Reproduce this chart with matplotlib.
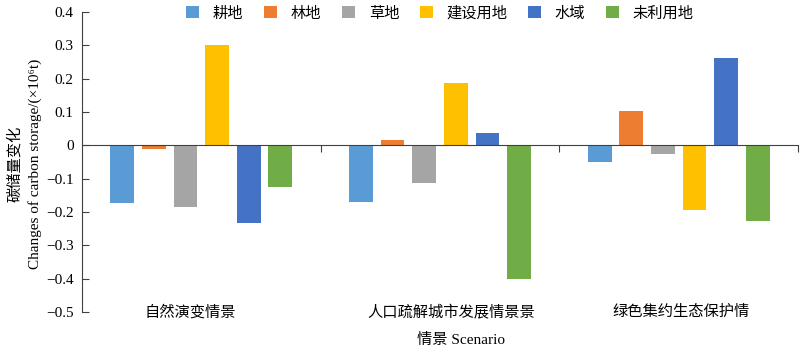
import numpy as np
import matplotlib.pyplot as plt
from matplotlib.transforms import blended_transform_factory

plt.rcParams['font.family'] = ['Liberation Serif', 'Noto Sans CJK SC']
plt.rcParams['axes.unicode_minus'] = True

scenarios = ['自然演变情景', '人口疏解城市发展情景景', '绿色集约生态保护情']
land_types = ['耕地', '林地', '草地', '建设用地', '水域', '未利用地']
colors = ['#5B9BD5', '#ED7D31', '#A5A5A5', '#FFC000', '#4472C4', '#70AD47']

# carbon storage change (x10^6 t), rows = land type, cols = scenario
gengdi = [-0.172, -0.170, -0.050]
lindi = [-0.010, 0.017, 0.102]
caodi = [-0.184, -0.113, -0.027]
jianshe = [0.302, 0.186, -0.194]
shuiyu = [-0.232, 0.036, 0.263]
weiliyong = [-0.124, -0.402, -0.227]
series = [gengdi, lindi, caodi, jianshe, shuiyu, weiliyong]

# where the category labels sit (data x)
label_x = [-0.045, 1.045, 2.01]

fig = plt.figure(figsize=(8, 3.48), dpi=100)
ax = fig.add_axes([0.1025, 0.1034, 0.895, 0.8621])

x = np.arange(len(scenarios))
w = 0.1
step = 0.1325
for i, (vals, c) in enumerate(zip(series, colors)):
    ax.bar(x + (i - 2.5) * step, vals, width=w, color=c, label=land_types[i])

ax.set_xlim(-0.5, 2.5)
ax.set_ylim(-0.5, 0.4)
ax.set_yticks(np.arange(-0.5, 0.41, 0.1))
ax.set_yticklabels(['−0.5', '−0.4', '−0.3', '−0.2', '−0.1', '0', '0.1', '0.2', '0.3', '0.4'],
                   fontsize=11)
ax.tick_params(axis='y', direction='in', length=5, color='#404040', pad=6)

ax.spines['top'].set_visible(False)
ax.spines['right'].set_visible(False)
ax.spines['bottom'].set_position(('data', 0))
ax.spines['bottom'].set_color('#404040')
ax.spines['left'].set_color('#404040')
ax.set_xticks([0.5, 1.5, 2.5])
ax.set_xticklabels([])
ax.tick_params(axis='x', direction='out', length=5, color='#404040')

tr = blended_transform_factory(ax.transData, fig.transFigure)
for xi, name in zip(label_x, scenarios):
    ax.text(xi, 1 - 312 / 348, name, transform=tr, ha='center', va='center',
            fontsize=11, fontweight='medium')

fig.text(461 / 800, 1 - 340 / 348, '情景 Scenario', ha='center', va='center', fontsize=11)
fig.text(15 / 800, 0.53, '碳储量变化', rotation=90, ha='center', va='center', fontsize=11)
fig.text(35 / 800, 0.53, 'Changes of carbon storage/(×10⁶t)', rotation=90,
         ha='center', va='center', fontsize=11)

ax.legend(loc='center', bbox_to_anchor=(0.5, 0.995), ncol=6, frameon=False, fontsize=11,
          handlelength=0.85, handleheight=0.85, handletextpad=0.9, columnspacing=1.35)

fig.savefig('out.png', dpi=100)
